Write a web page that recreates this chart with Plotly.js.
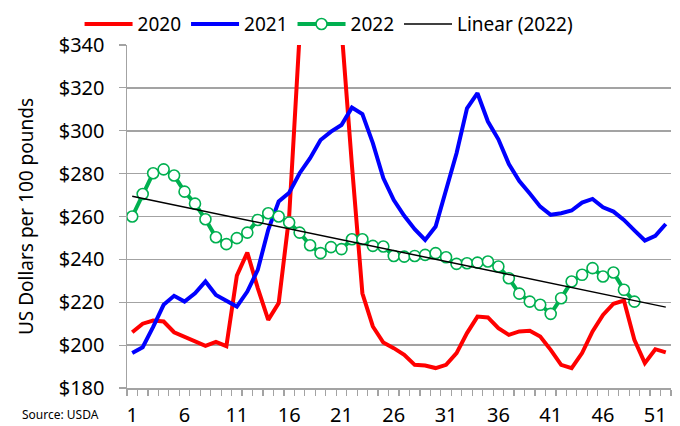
<!DOCTYPE html>
<html>
<head>
<meta charset="utf-8">
<script src="https://cdn.plot.ly/plotly-3.0.1.min.js"></script>
<style>
  html, body { margin: 0; padding: 0; background: #ffffff; }
  #chart { width: 680px; height: 426px; }
</style>
</head>
<body>
<div id="chart"></div>
<script>
// Weekly price, US dollars per 100 pounds
const weeks = Array.from({length: 52}, (_, i) => i + 1);

const price2020 = [206, 210, 211.5, 211, 206, 204, 202, 199.7, 201.5, 199.5,
  232.4, 243.2, 226.6, 211.8, 219.6, 260, 345, 420, 460, 430,
  348, 284, 224.2, 208.7, 201.2, 198.6, 195.5, 190.8, 190.5, 189.3,
  190.8, 196.3, 205.6, 213.3, 212.9, 207.9, 204.8, 206.4, 206.7, 204,
  197.8, 190.8, 189.3, 196.3, 206.4, 214.1, 219.3, 220.8, 202.5, 191.6,
  198.1, 196.6];

const price2021 = [196.3, 199, 208.5, 218.8, 223, 220.3, 224.2, 229.7, 223.4, 220.8,
  218, 225, 235.1, 253.8, 267, 271.1, 280.2, 287.2, 295.7, 299.6,
  302.7, 310.8, 307.8, 294.2, 277.9, 267.7, 260.3, 254.1, 249.1, 255.3,
  272.4, 289.5, 310.5, 317.5, 304.3, 296, 284.5, 276.5, 270.7, 264.6,
  260.8, 261.5, 262.8, 266.5, 268.2, 264.3, 262.3, 258.4, 253.5, 248.8,
  251, 256.5];

const price2022 = [260, 270.5, 280.2, 282, 279.1, 271.6, 266, 258.7, 250.3, 247.1,
  249.9, 252.5, 258.4, 261.5, 260, 257.2, 252.5, 246.6, 242.9, 245.7,
  244.8, 249.4, 249.4, 246.3, 246, 241.6, 241.3, 241.6, 242.1, 242.9,
  241, 237.9, 238.2, 238.5, 239, 236.7, 231.2, 224, 220.3, 218.8,
  214.6, 221.9, 229.7, 232.8, 235.9, 232, 233.9, 225.8, 220.3];

const weekTicks = [1, 6, 11, 16, 21, 26, 31, 36, 41, 46, 51];
const priceTicks = [180, 200, 220, 240, 260, 280, 300, 320, 340];

// Least-squares trend of the 2022 weeks, carried forward to week 52
const weeks2022 = weeks.slice(0, price2022.length);
function linearFit(xs, ys) {
  const n = xs.length;
  const mx = xs.reduce((a, b) => a + b, 0) / n;
  const my = ys.reduce((a, b) => a + b, 0) / n;
  let sxy = 0, sxx = 0;
  for (let i = 0; i < n; i++) {
    sxy += (xs[i] - mx) * (ys[i] - my);
    sxx += (xs[i] - mx) * (xs[i] - mx);
  }
  const slope = sxy / sxx;
  return { slope, intercept: my - slope * mx };
}
const fit = linearFit(weeks2022, price2022);
const trendX = [1, 52];
const trendY = trendX.map(x => fit.intercept + fit.slope * x);

const FONT = "'Noto Sans', 'Open Sans', sans-serif";
const GRID = '#a3a3a3';

const traces = [
  { x: weeks, y: price2020, name: '2020', type: 'scatter', mode: 'lines',
    line: { color: '#ff0000', width: 4 } },
  { x: weeks, y: price2021, name: '2021', type: 'scatter', mode: 'lines',
    line: { color: '#0000ff', width: 4 } },
  { x: weeks2022, y: price2022, name: '2022', type: 'scatter', mode: 'lines+markers',
    line: { color: '#00b050', width: 4 },
    marker: { symbol: 'circle', size: 11, color: '#ffffff',
              line: { color: '#00b050', width: 1.6 } } },
  { x: trendX, y: trendY, name: 'Linear (2022)', type: 'scatter', mode: 'lines',
    line: { color: '#000000', width: 1.5 } }
];

const layout = {
  width: 680, height: 426,
  margin: { l: 127, r: 9, t: 45, b: 38, pad: 0 },
  paper_bgcolor: '#ffffff', plot_bgcolor: '#ffffff',
  font: { family: FONT, color: '#000000', size: 19 },
  showlegend: true,
  legend: {
    orientation: 'h', xref: 'container', yref: 'container',
    x: 0.117, y: 0.988, xanchor: 'left', yanchor: 'top',
    font: { family: FONT, size: 19, color: '#000000' },
    itemwidth: 48, bgcolor: 'rgba(0,0,0,0)', traceorder: 'normal'
  },
  xaxis: {
    range: [0.5, 52.5], tickmode: 'array', tickvals: weekTicks,
    ticktext: weekTicks.map(String), ticks: '', showgrid: false, zeroline: false,
    showline: true, linecolor: GRID, linewidth: 1.5,
    tickfont: { family: FONT, size: 20, color: '#000000' },
    ticklabelstandoff: 8,
    minor: { tickmode: 'linear', tick0: 0.5, dtick: 1, ticks: 'outside',
             ticklen: 6, tickwidth: 1.2, tickcolor: GRID, showgrid: false },
    fixedrange: true
  },
  yaxis: {
    range: [180, 340], tickmode: 'array', tickvals: priceTicks,
    ticktext: priceTicks.map(v => '$' + v),
    showgrid: true, gridcolor: GRID, gridwidth: 1.5, zeroline: false,
    showline: true, linecolor: GRID, linewidth: 1.5,
    ticks: 'outside', ticklen: 7, tickwidth: 1.2, tickcolor: GRID,
    tickfont: { family: FONT, size: 20, color: '#000000' },
    ticklabelstandoff: 10,
    title: { text: 'US Dollars per 100 pounds', standoff: 20,
             font: { family: FONT, size: 19, color: '#000000' } },
    fixedrange: true
  },
  annotations: [{
    text: 'Source: USDA', xref: 'paper', yref: 'paper',
    x: -0.197, y: -0.109, xanchor: 'left', yanchor: 'bottom', showarrow: false,
    font: { family: FONT, size: 12, color: '#000000' }
  }]
};

Plotly.newPlot('chart', traces, layout, { displayModeBar: false, staticPlot: true });
</script>
</body>
</html>
